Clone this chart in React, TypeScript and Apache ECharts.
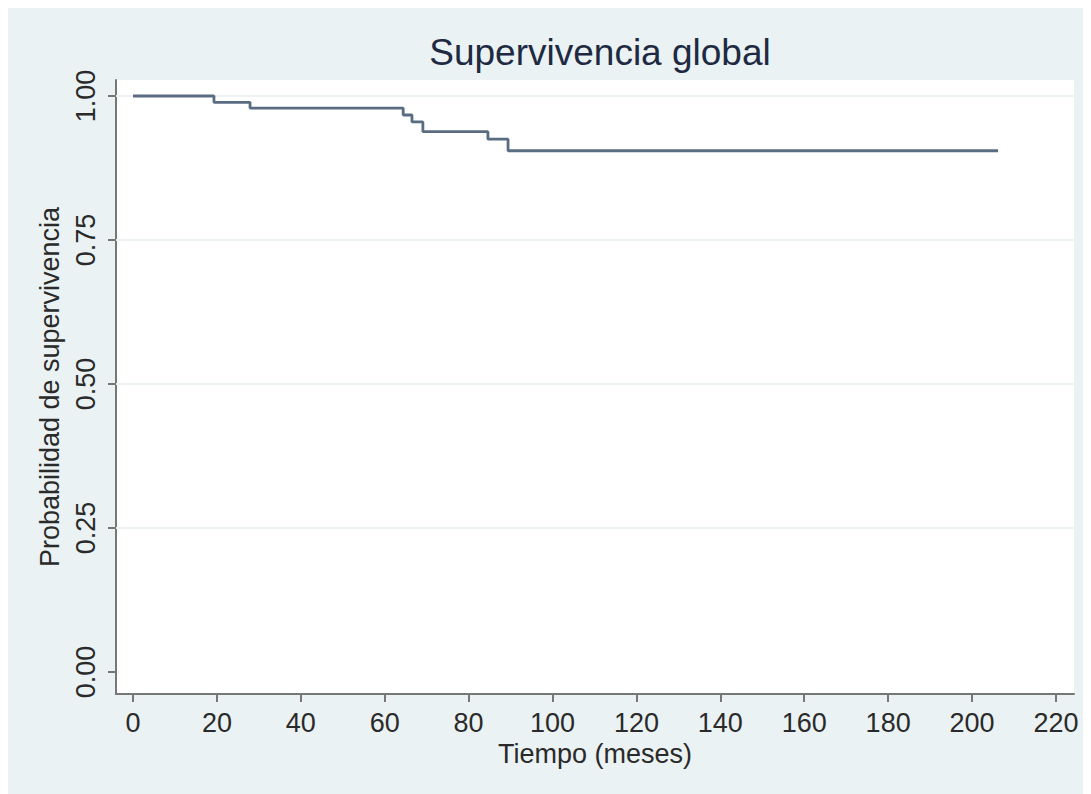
import React, { useEffect, useRef } from "react";
import * as echarts from "echarts";

// Kaplan-Meier estimate: time (months) and survival probability at each step
const stepTimes: number[] = [0, 19.3, 27.9, 64.4, 66.5, 69.1, 84.6, 89.4, 206.2];
const survival: number[] = [1.0, 0.989, 0.979, 0.967, 0.955, 0.938, 0.925, 0.905, 0.905];

const xTicks: number[] = [0, 20, 40, 60, 80, 100, 120, 140, 160, 180, 200, 220];
const yTicks: number[] = [0, 0.25, 0.5, 0.75, 1.0];
const gridValues: number[] = [0.25, 0.5, 0.75, 1.0];

const titleText = "Supervivencia global";
const xName = "Tiempo (meses)";
const yName = "Probabilidad de supervivencia";

const FONT = "'Liberation Sans', Arial, Helvetica, sans-serif";

export default function App() {
  const ref = useRef<HTMLDivElement>(null);

  useEffect(() => {
    if (!ref.current) return;
    const chart = echarts.init(ref.current, null, { renderer: "svg" });
    const data = stepTimes.map((t, i) => [t, survival[i]]);
    chart.setOption({
      animation: false,
      backgroundColor: "#eaf2f3",
      textStyle: { fontFamily: FONT },
      title: {
        text: titleText,
        left: 587,
        textAlign: "center",
        top: 21,
        textStyle: {
          fontFamily: FONT,
          fontSize: 37,
          fontWeight: "normal",
          color: "#1e2a42",
        },
      },
      grid: {
        left: 108,
        top: 72,
        right: 11,
        bottom: 100,
        show: true,
        backgroundColor: "#ffffff",
        borderWidth: 0,
      },
      xAxis: {
        type: "value",
        min: -4.05,
        max: 224.3,
        name: xName,
        nameLocation: "middle",
        nameGap: 41,
        nameTextStyle: { fontFamily: FONT, fontSize: 27, color: "#2a2a2a" },
        axisLine: { show: true, onZero: false, lineStyle: { color: "#777777", width: 2 } },
        axisTick: {
          show: true,
          length: 8,
          customValues: xTicks,
          lineStyle: { color: "#777777", width: 2 },
        },
        axisLabel: {
          customValues: xTicks,
          fontFamily: FONT,
          fontSize: 27,
          color: "#2a2a2a",
          margin: 15,
        },
        splitLine: { show: false },
      },
      yAxis: {
        type: "value",
        min: -0.0382,
        max: 1.0278,
        name: yName,
        nameLocation: "middle",
        nameGap: 53,
        nameTextStyle: { fontFamily: FONT, fontSize: 27, color: "#2a2a2a" },
        axisLine: { show: true, onZero: false, lineStyle: { color: "#777777", width: 2 } },
        axisTick: {
          show: true,
          length: 8,
          customValues: yTicks,
          lineStyle: { color: "#777777", width: 2 },
        },
        axisLabel: {
          customValues: yTicks,
          rotate: 90,
          fontFamily: FONT,
          fontSize: 27,
          color: "#2a2a2a",
          margin: 17,
          formatter: (v: number) => v.toFixed(2),
        },
        splitLine: { show: false },
      },
      series: [
        {
          type: "line",
          data: [],
          z: 1,
          silent: true,
          markLine: {
            silent: true,
            symbol: "none",
            label: { show: false },
            lineStyle: { color: "#eef3f4", width: 2, type: "solid" },
            data: gridValues.map((v) => ({ yAxis: v })),
            z: 1,
          },
        },
        {
          type: "line",
          step: "end",
          data,
          showSymbol: false,
          symbol: "none",
          lineStyle: { color: "#596c82", width: 2.8 },
          z: 5,
        },
      ],
    });
    return () => chart.dispose();
  }, []);

  return <div ref={ref} style={{ width: 1077, height: 786 }} />;
}
